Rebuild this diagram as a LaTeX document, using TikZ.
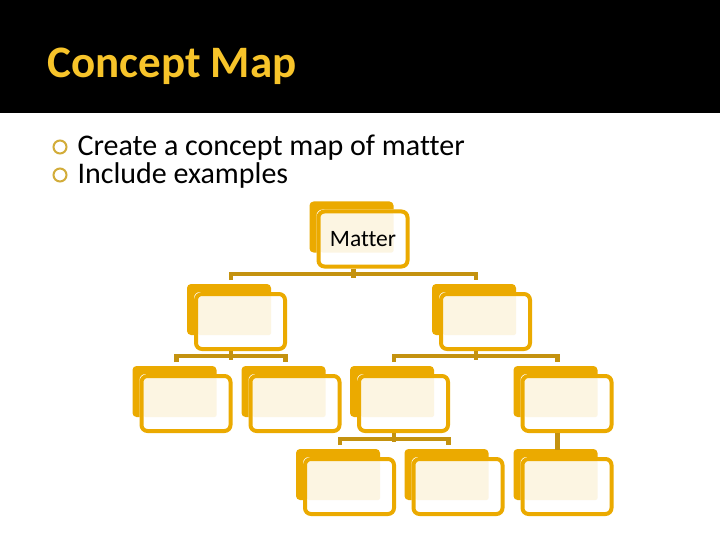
\documentclass[tikz,border=0pt]{standalone}
\usepackage{fontspec}
\setmainfont[Ligatures=NoCommon]{Carlito}
\usetikzlibrary{backgrounds}
\definecolor{boxgold}{HTML}{EBAA00}
\definecolor{linkgold}{HTML}{C4920F}
\definecolor{titlegold}{HTML}{F7C42A}
\definecolor{boxcream}{HTML}{FCF5E2}
\definecolor{bulletgold}{HTML}{D2AC38}

\begin{document}
\begin{tikzpicture}[x=1pt, y=-1pt,
    conceptbox/.style={draw=boxgold, line width=4pt, rounded corners=6pt,
      minimum width=89pt, minimum height=55pt, inner sep=0pt,
      font=\fontsize{23.5}{26}\selectfont},
    link/.style={draw=linkgold, line width=4.5pt}]

      \useasboundingbox (0,0) rectangle (720,540);
      \begin{scope}[on background layer]
        \fill[white] (0,0) rectangle (720,540);
        \fill[black] (0,0) rectangle (720,113);
      \end{scope}

      \node[anchor=base west, text=titlegold, font=\fontsize{45}{54}\selectfont\bfseries] (title) at (44,78) {Concept Map};

      \node[circle, draw=bulletgold, line width=2pt, minimum size=13pt, inner sep=0pt] (dot1) at (60,147) {};
      \node[circle, draw=bulletgold, line width=2pt, minimum size=13pt, inner sep=0pt] (dot2) at (60,175) {};
      \node[anchor=base west, font=\fontsize{30}{36}\selectfont] (item1) at (74,156) {Create a concept map of matter};
      \node[anchor=base west, font=\fontsize{30}{36}\selectfont] (item2) at (74,184) {Include examples};

      % the map
      \node[conceptbox] (matter) at (363,239) {Matter};
      \node[conceptbox] (l2a) at (240.5,321.5) {};
      \node[conceptbox] (l2b) at (485.5,321.5) {};
      \node[conceptbox] (l3a) at (186,403.5) {};
      \node[conceptbox] (l3b) at (295,403.5) {};
      \node[conceptbox] (l3c) at (403.5,403.5) {};
      \node[conceptbox] (l3d) at (567,403.5) {};
      \node[conceptbox] (l4a) at (349.5,486.5) {};
      \node[conceptbox] (l4b) at (458,486.5) {};
      \node[conceptbox] (l4c) at (567,486.5) {};

      \begin{scope}[on background layer]
        \foreach \n in {matter, l2a, l2b, l3a, l3b, l3c, l3d, l4a, l4b, l4c} {
          \fill[boxgold, rounded corners=4pt] ([shift={(-7,-8)}]\n.north west) rectangle ([shift={(77,43)}]\n.north west);
          \fill[white, rounded corners=6pt] (\n.north west) rectangle (\n.south east);
          \fill[boxcream, rounded corners=2pt] ([shift={(4,3)}]\n.north west) rectangle ([shift={(77,43)}]\n.north west);
        }
      \end{scope}

      \draw[link] ([shift={(-9.5,0)}]matter.south) -- ++(0,9);
      \draw[link] ([shift={(-9.5,-12)}]l2a.north) -- ++(0,-6) -| ([shift={(-9.5,-12)}]l2b.north);

      \draw[link] ([shift={(-9.5,0)}]l2a.south) -- ++(0,9);
      \draw[link] ([shift={(-9.5,-12)}]l3a.north) -- ++(0,-6) -| ([shift={(-9.5,-12)}]l3b.north);

      \draw[link] ([shift={(-9.5,0)}]l2b.south) -- ++(0,9);
      \draw[link] ([shift={(-9.5,-12)}]l3c.north) -- ++(0,-6) -| ([shift={(-9.5,-12)}]l3d.north);

      \draw[link] ([shift={(-9.5,0)}]l3c.south) -- ++(0,9);
      \draw[link] ([shift={(-9.5,-12)}]l4a.north) -- ++(0,-6) -| ([shift={(-9.5,-12)}]l4b.north);

      \draw[link] ([shift={(-9.5,0)}]l3d.south) -- ([shift={(-9.5,-7)}]l4c.north);

\end{tikzpicture}
\end{document}
